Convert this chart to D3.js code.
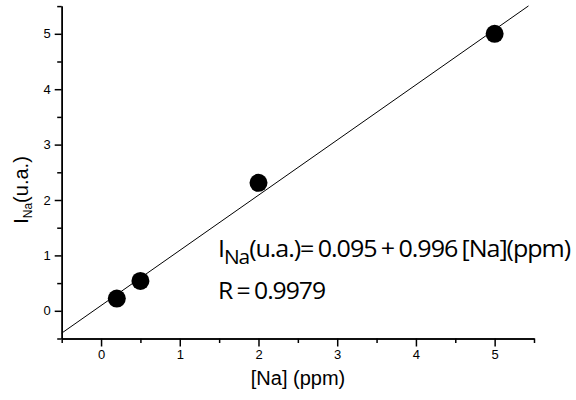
<!DOCTYPE html>
<html>
<head>
<meta charset="utf-8">
<script src="https://cdn.jsdelivr.net/npm/d3@7"></script>
<style>
  body { margin: 0; background: #fff; }
  svg { display: block; }
</style>
</head>
<body>
<svg></svg>
<script>
const width = 576;
const height = 400;

// data
const naPpm = [0.2, 0.5, 2, 5];
const intensity = [0.22, 0.54, 2.31, 5.0];
const fitIntercept = 0.095;
const fitSlope = 0.996;
const fitRange = [-0.5, 5.43];
const majorTicks = [0, 1, 2, 3, 4, 5];
const minorTicks = [-0.5, 0.5, 1.5, 2.5, 3.5, 4.5, 5.5];
const eqText = ['I', 'Na', '(u.a.)= 0.095 + 0.996 [Na](ppm)'];
const rText = 'R = 0.9979';

const svg = d3.select('svg')
    .attr('width', width).attr('height', height);

const x = d3.scaleLinear().domain([-0.5, 5.5]).range([61.7, 534]);
const y = d3.scaleLinear().domain([-0.5, 5.5]).range([338.5, 6.1]);

const tickFont = 'Liberation Sans, Arial, sans-serif';

function styleAxis(g) {
    g.selectAll('path').attr('stroke', '#000').attr('stroke-width', 1.5);
    g.selectAll('line').attr('stroke', '#000').attr('stroke-width', 1.5);
    g.selectAll('text').attr('font-family', tickFont).attr('font-size', 13).attr('fill', '#000');
}

// minor ticks first
svg.append('g')
    .attr('transform', `translate(0,${y(-0.5)})`)
    .call(d3.axisBottom(x).tickValues(minorTicks).tickSize(4.5).tickSizeOuter(0).tickFormat(''))
    .call(styleAxis);
svg.append('g')
    .attr('transform', `translate(${x(-0.5)},0)`)
    .call(d3.axisLeft(y).tickValues(minorTicks).tickSize(4.5).tickSizeOuter(0).tickFormat(''))
    .call(styleAxis);

// major ticks
svg.append('g')
    .attr('transform', `translate(0,${y(-0.5)})`)
    .call(d3.axisBottom(x).tickValues(majorTicks).tickSize(8).tickSizeOuter(0).tickPadding(3).tickFormat(d3.format('d')))
    .call(styleAxis);
svg.append('g')
    .attr('transform', `translate(${x(-0.5)},0)`)
    .call(d3.axisLeft(y).tickValues(majorTicks).tickSize(7).tickSizeOuter(0).tickPadding(4).tickFormat(d3.format('d')))
    .call(styleAxis);

// fit line
const line = d3.line()
    .x(d => x(d))
    .y(d => y(fitIntercept + fitSlope * d));
svg.append('path')
    .datum(fitRange)
    .attr('d', line)
    .attr('fill', 'none')
    .attr('stroke', '#000')
    .attr('stroke-width', 1);

// points
svg.selectAll('.pt')
    .data(naPpm)
    .enter().append('circle')
    .attr('class', 'pt')
    .attr('cx', d => x(d))
    .attr('cy', (d, i) => y(intensity[i]))
    .attr('r', 9)
    .attr('fill', '#000');

// axis titles
svg.append('text')
    .attr('x', 298).attr('y', 385)
    .attr('text-anchor', 'middle')
    .attr('font-family', tickFont)
    .attr('font-size', 20)
    .text('[Na] (ppm)');

const yTitle = svg.append('text')
    .attr('transform', 'translate(28,190) rotate(-90)')
    .attr('text-anchor', 'middle')
    .attr('font-family', tickFont)
    .attr('font-size', 20);
yTitle.append('tspan').text('I');
yTitle.append('tspan').attr('font-size', 12).attr('dy', 4).text('Na');
yTitle.append('tspan').attr('dy', -4).text('(u.a.)');

// annotation
const annFont = 'Open Sans, sans-serif';
const eq = svg.append('text')
    .attr('x', 218).attr('y', 256.7)
    .attr('font-family', annFont)
    .attr('font-size', 24)
    .attr('letter-spacing', -1)
    .attr('word-spacing', -1)
    .attr('textLength', 352)
    .attr('lengthAdjust', 'spacingAndGlyphs');
eq.append('tspan').text(eqText[0]);
eq.append('tspan').attr('font-size', 20).attr('dy', 7).text(eqText[1]);
eq.append('tspan').attr('dy', -7).text(eqText[2]);

svg.append('text')
    .attr('x', 218).attr('y', 299)
    .attr('font-family', annFont)
    .attr('font-size', 24)
    .attr('letter-spacing', -1)
    .attr('word-spacing', -1)
    .attr('textLength', 107)
    .attr('lengthAdjust', 'spacingAndGlyphs')
    .text(rText);
</script>
</body>
</html>
